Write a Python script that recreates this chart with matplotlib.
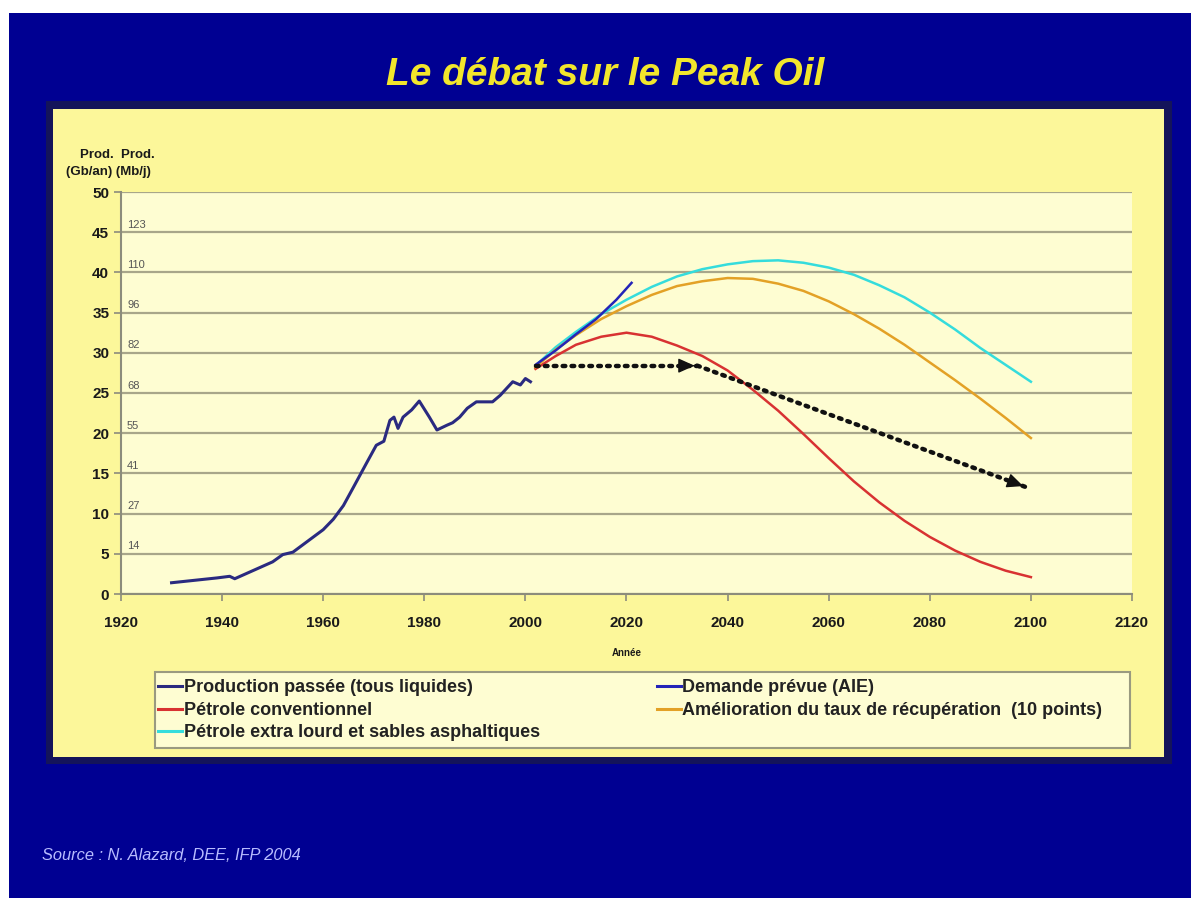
import matplotlib
matplotlib.use("Agg")
import matplotlib.pyplot as plt
from matplotlib.patches import Rectangle

# past production (Gb/an)
prod_years = [1930, 1933, 1936, 1939, 1941.5, 1942.5, 1945, 1947.5, 1950, 1952, 1954,
              1957, 1960, 1962, 1964, 1966, 1968.5, 1970.5, 1972, 1973.2, 1974, 1974.8,
              1975.8, 1977.5, 1979, 1981, 1982.5, 1984.5, 1985.6, 1987, 1988.5, 1990.3,
              1993.5, 1995, 1997.5, 1999, 2000, 2001]
prod_values = [1.4, 1.6, 1.8, 2.0, 2.2, 1.9, 2.6, 3.3, 4.0, 4.9, 5.2,
               6.6, 8.0, 9.3, 11.0, 13.3, 16.2, 18.5, 19.0, 21.6, 22.0, 20.6,
               22.0, 22.9, 24.0, 22.0, 20.4, 21.0, 21.3, 22.0, 23.1, 23.9,
               23.9, 24.7, 26.4, 26.0, 26.8, 26.4]

# IEA demand forecast
dem_years = [2002, 2006, 2010, 2014, 2018, 2021]
dem_values = [28.5, 30.3, 32.3, 34.2, 36.6, 38.7]

# scenario years
scen_years = [2002, 2006, 2010, 2015, 2020, 2025, 2030, 2035, 2040, 2045, 2050,
              2055, 2060, 2065, 2070, 2075, 2080, 2085, 2090, 2095, 2100]
conv_values = [28.0, 29.6, 31.0, 32.0, 32.5, 32.0, 30.9, 29.6, 27.8, 25.4, 22.8,
               19.9, 16.9, 14.0, 11.4, 9.1, 7.1, 5.4, 4.0, 2.9, 2.1]
recov_values = [28.2, 30.4, 32.2, 34.2, 35.8, 37.2, 38.3, 38.9, 39.3, 39.2, 38.6,
                37.7, 36.4, 34.8, 33.0, 31.0, 28.8, 26.6, 24.3, 21.9, 19.4]
heavy_values = [28.4, 30.7, 32.6, 34.8, 36.6, 38.2, 39.5, 40.4, 41.0, 41.4, 41.5,
                41.2, 40.6, 39.7, 38.4, 36.9, 35.0, 32.9, 30.6, 28.5, 26.4]

# dotted arrows (plateau then decline)
arrow_years = [2002, 2034, 2099]
arrow_levels = [28.4, 28.4, 13.3]

# secondary scale (Mb/j) written inside the plot
mbj_ticks = [5, 10, 15, 20, 25, 30, 35, 40, 45]
mbj_labels = ["14", "27", "41", "55", "68", "82", "96", "110", "123"]

labels = ["Production passée (tous liquides)", "Pétrole conventionnel",
          "Pétrole extra lourd et sables asphaltiques", "Demande prévue (AIE)",
          "Amélioration du taux de récupération  (10 points)"]

plt.rcParams["font.family"] = ["Liberation Sans", "DejaVu Sans"]

fig = plt.figure(figsize=(11.91, 8.98), dpi=100)
fig.patch.set_facecolor("white")

# slide background, shadow and yellow panel
fig.patches.append(Rectangle((9 / 1191, 0), 1, 1 - 13 / 898, transform=fig.transFigure,
                             facecolor="#000092", edgecolor="none", zorder=-3))
fig.patches.append(Rectangle((46 / 1191, 1 - 764 / 898), 1126 / 1191, 663 / 898,
                             transform=fig.transFigure, facecolor="#14145a",
                             edgecolor="none", zorder=-2))
fig.patches.append(Rectangle((53 / 1191, 1 - 757 / 898), 1111 / 1191, 648 / 898,
                             transform=fig.transFigure, facecolor="#fcf79a",
                             edgecolor="none", zorder=-1))
# legend box
fig.patches.append(Rectangle((155 / 1191, 1 - 748 / 898), 975 / 1191, 76 / 898,
                             transform=fig.transFigure, facecolor="#fefdd2",
                             edgecolor="#9a9a80", linewidth=1.5, zorder=1))

ax = fig.add_axes([121 / 1191, 1 - 594 / 898, 1011 / 1191, 402 / 898])
ax.set_zorder(2)
ax.set_facecolor("#fefdd2")

ax.plot(prod_years, prod_values, color="#2a2a80", lw=2.2, label=labels[0], zorder=4)
ax.plot(scen_years, conv_values, color="#d83232", lw=1.8, label=labels[1], zorder=3)
ax.plot(scen_years, heavy_values, color="#35dcdc", lw=1.8, label=labels[2], zorder=3)
ax.plot(dem_years, dem_values, color="#2424b8", lw=1.8, label=labels[3], zorder=4)
ax.plot(scen_years, recov_values, color="#e3a126", lw=1.8, label=labels[4], zorder=3)

# dotted arrows
for i in range(len(arrow_years) - 1):
    ax.plot(arrow_years[i:i + 2], arrow_levels[i:i + 2], color="#111111", lw=3.2,
            linestyle=(0, (0.6, 1.4)), dash_capstyle="round", zorder=5)
    dx = arrow_years[i + 1] - arrow_years[i]
    dy = arrow_levels[i + 1] - arrow_levels[i]
    ax.annotate("", xy=(arrow_years[i + 1], arrow_levels[i + 1]),
                xytext=(arrow_years[i + 1] - dx * 0.05, arrow_levels[i + 1] - dy * 0.05),
                arrowprops=dict(arrowstyle="-|>,head_length=1.0,head_width=0.45",
                                color="#111111", lw=1), zorder=6)

ax.set_xlim(1920, 2120)
ax.set_ylim(0, 50)
ax.set_xticks(range(1920, 2121, 20))
ax.set_yticks(range(0, 51, 5))
ax.grid(axis="y", color="#a8a68a", lw=1.6)
ax.set_axisbelow(True)
for s in ["top", "right"]:
    ax.spines[s].set_visible(False)
for s in ["left", "bottom"]:
    ax.spines[s].set_color("#8c8c7c")
    ax.spines[s].set_linewidth(1.5)
ax.tick_params(colors="#8c8c7c", length=5, width=1.2)
ax.tick_params(axis="x", pad=10.5)
for lab in ax.get_xticklabels() + ax.get_yticklabels():
    lab.set_fontweight("bold")
    lab.set_fontsize(11)
    lab.set_color("#1a1a1a")
ax.set_xlabel("Année", fontsize=7, fontweight="bold", color="#1a1a1a", labelpad=13)

for yv, txt in zip(mbj_ticks, mbj_labels):
    ax.text(1921.2, yv + 0.3, txt, fontsize=8, color="#555555", va="bottom", ha="left")

fig.text(80 / 1191, 1 - 155 / 898, "Prod.  Prod.", fontsize=9.5, fontweight="bold",
         color="#1a1a1a", va="center")
fig.text(66 / 1191, 1 - 172 / 898, "(Gb/an) (Mb/j)", fontsize=9.5, fontweight="bold",
         color="#1a1a1a", va="center")

fig.text(0.508, 1 - 75 / 898, "Le débat sur le Peak Oil", fontsize=28,
         fontweight="bold", fontstyle="italic", color="#f2e62c", ha="center", va="center")
fig.text(42 / 1191, 1 - 855 / 898, "Source : N. Alazard, DEE, IFP 2004", fontsize=11.8,
         fontstyle="italic", color="#b8bcff", va="center")

leg = fig.legend(loc="upper left", ncol=2,
                 bbox_to_anchor=(153 / 1191, 1 - 674 / 898), borderaxespad=0,
                 prop={"weight": "bold", "size": 13}, handlelength=1.3,
                 handletextpad=0.1, labelspacing=0.3, borderpad=0.3,
                 columnspacing=6.5, frameon=False)
leg.set_zorder(3)
for t in leg.get_texts():
    t.set_color("#222222")
for h in leg.get_lines():
    h.set_linewidth(2.2)

fig.savefig("out.png", dpi=100)
